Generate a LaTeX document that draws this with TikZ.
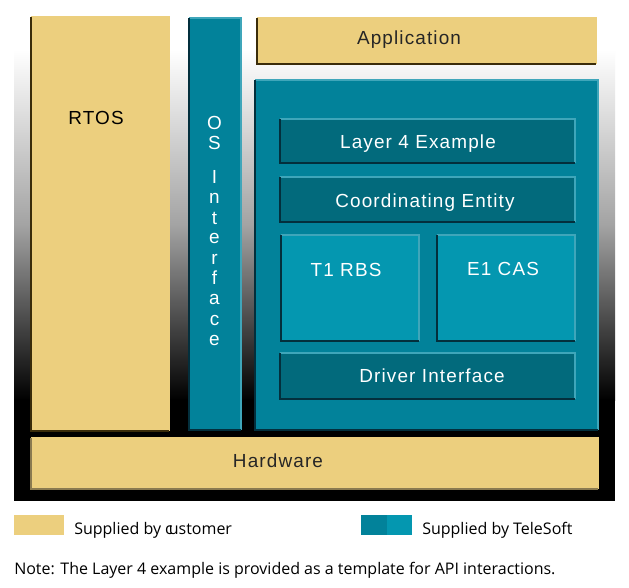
\documentclass[tikz,border=0pt]{standalone}
\usepackage{fontspec}
\setmainfont{Liberation Sans}
\newfontfamily\lab[LetterSpace=6]{Liberation Sans}
\newfontfamily\leg{Open Sans}
\definecolor{tan}{HTML}{ECCF7E}
\definecolor{tanDark}{HTML}{3A2C0A}
\definecolor{tanMid}{HTML}{8A7A50}
\definecolor{teal}{HTML}{02829A}
\definecolor{tealBright}{HTML}{0497B0}
\definecolor{tealDeep}{HTML}{026A7C}
\definecolor{edgeDark}{HTML}{032F3C}
\definecolor{edgeLight}{HTML}{3FA6BA}
\tikzset{x=0.75pt,y=-0.75pt,
  boxnode/.style={inner sep=0pt,outer sep=0pt,anchor=center,align=center},
  lbl/.style={inner sep=0pt,font=\fontsize{14.2pt}{16pt}\selectfont\lab},
  legtext/.style={inner sep=0pt,anchor=base west,font=\fontsize{12pt}{14pt}\selectfont\leg}}
% name, x0, y0, x1, y1, fill, dark, light
\newcommand{\bevbox}[8]{%
  \node[boxnode,fill=#6,minimum width=\the\dimexpr(#4pt-#2pt)*3/4\relax,minimum height=\the\dimexpr(#5pt-#3pt)*3/4\relax] (#1) at ({(#2+#4)/2},{(#3+#5)/2}) {};
  \draw[#8,line width=1pt] (#1.north west) -- (#1.north east) -- (#1.south east);
  \draw[#7,line width=1.5pt] (#1.north west) -- (#1.south west) -- (#1.south east);
}
\begin{document}
\begin{tikzpicture}
\useasboundingbox (0,0) rectangle (629,587);
\fill[white] (0,0) rectangle (629,587);
\shade[top color=white,bottom color=black,middle color=black!36] (14,50) rectangle (615,400);
\fill[black] (14,399) rectangle (615,501);
\bevbox{rtos}{31}{17}{169}{431}{tan}{tanDark}{tan}
\bevbox{osif}{189}{18}{241}{430}{teal}{edgeDark}{edgeLight}
\bevbox{app}{257}{18}{596}{64}{tan}{tanDark}{tan}
\bevbox{big}{255}{80}{598}{430}{teal}{edgeDark}{edgeLight}
\bevbox{layer}{280}{119}{575}{163}{tealDeep}{edgeDark}{edgeLight}
\bevbox{coord}{280}{177}{575}{222}{tealDeep}{edgeDark}{edgeLight}
\bevbox{tone}{281}{235}{419}{341}{tealBright}{edgeDark}{edgeLight}
\bevbox{eone}{437}{235}{575}{341}{tealBright}{edgeDark}{edgeLight}
\bevbox{drv}{280}{353}{575}{399}{tealDeep}{edgeDark}{edgeLight}
\bevbox{hw}{31}{438}{598}{489}{tan}{tanMid}{tan}
\node[lbl,text=black] (trtos) at (96,118) {RTOS};
\node[lbl,text=black!85] (tapp) at (409,39.5) {Application};
\node[lbl,text=white] (tlayer) at (418,143.5) {Layer 4 Example};
\node[lbl,text=white] (tcoord) at (425,202.5) {Coordinating Entity};
\node[lbl,text=white] (ttone) at (346,270) {T1 RBS};
\node[lbl,text=white] (teone) at (503,269) {E1 CAS};
\node[lbl,text=white] (tdrv) at (432,376) {Driver Interface};
\node[lbl,text=black!85] (thw) at (278,461) {Hardware};
\foreach \c/\y/\n in {O/123/a,S/143/b,I/177/c,n/198/d,t/218/e,e/238/f,r/259/g,f/278/h,a/299/i,c/320/j,e/340/k}
  \node[lbl,text=white] (os\n) at (214.5,\y) {\c};
\node[boxnode,fill=tan,minimum width=37.5pt,minimum height=15pt] (legA) at (39,525) {};
\node[boxnode,fill=teal,minimum width=19.5pt,minimum height=15pt] (legB) at (374,525) {};
\node[boxnode,fill=tealBright,minimum width=18.75pt,minimum height=15pt] (legC) at (399.5,525) {};
\node[legtext] (tA) at (74,534) {Supplied by c\kern-3pt ustomer};
\node[legtext] (tB) at (422,534) {Supplied by TeleSoft};
\node[legtext] (tN) at (14,574) {Note: The Layer 4 example is provided as a template for API interactions.};
\end{tikzpicture}
\end{document}
